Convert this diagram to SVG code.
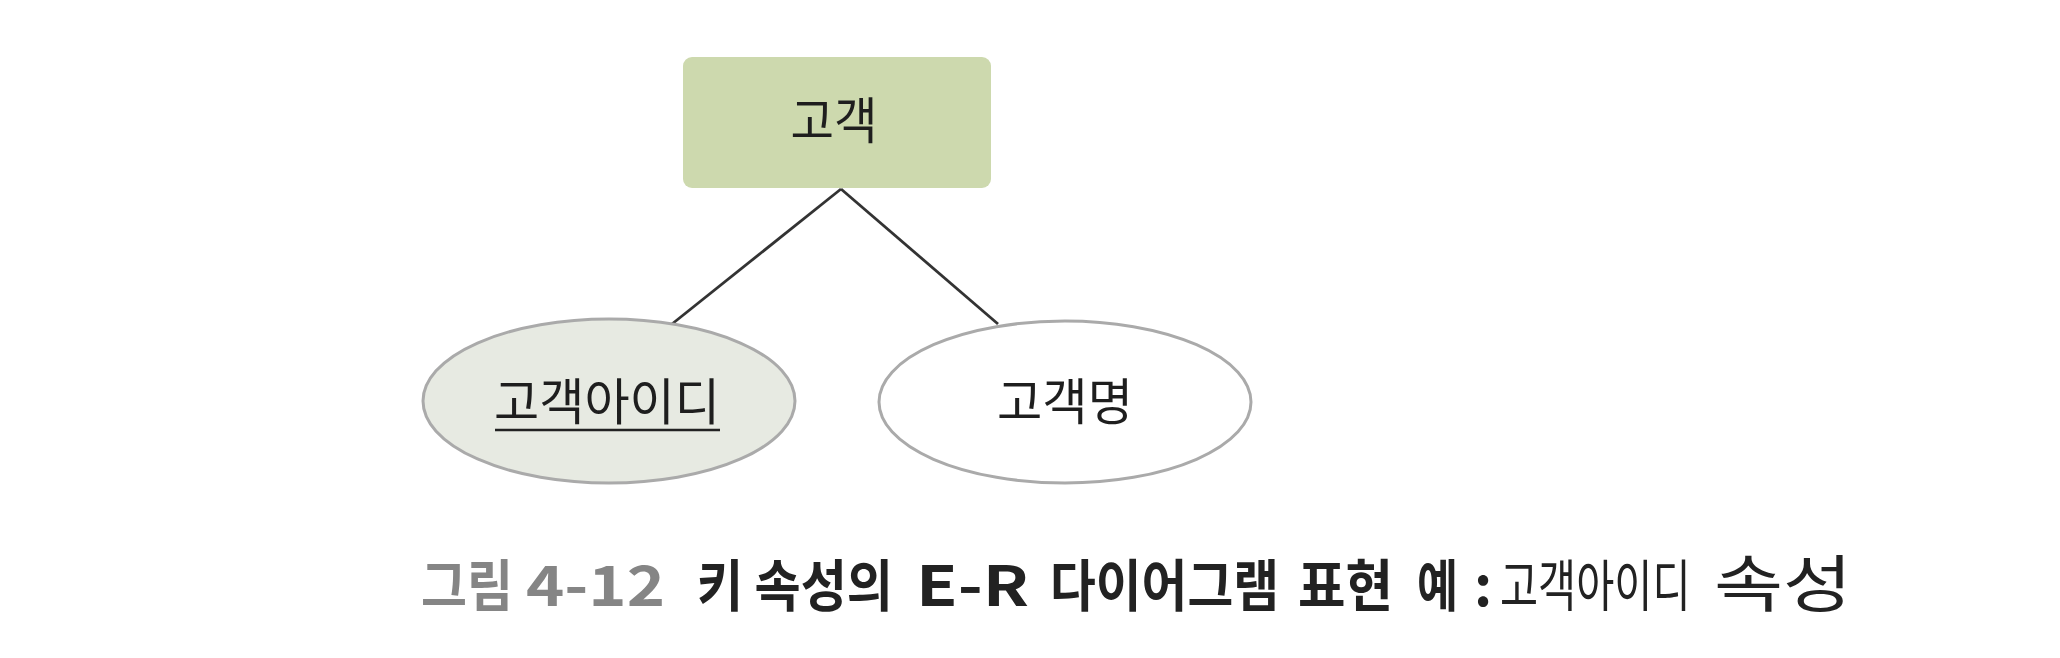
<svg xmlns="http://www.w3.org/2000/svg" width="2060" height="658" viewBox="0 0 2060 658">
<style>
.lbl{font-family:"Noto Sans CJK KR","Noto Sans",sans-serif;font-size:50px;fill:#1e1e1e;text-anchor:middle}
.cap{font-family:"Noto Sans CJK KR","Noto Sans",sans-serif;font-size:56px;font-weight:bold;fill:#222}
.capg{fill:#858585}
.capr{font-weight:normal}
.conn{stroke:#333;stroke-width:2.8;fill:none}
.attr{stroke:#aaa;stroke-width:3}
</style>
<rect width="2060" height="658" fill="#fff"/>
<g id="connectors">
<line class="conn" x1="841" y1="189" x2="672" y2="324"/>
<line class="conn" x1="841" y1="189" x2="998" y2="324"/>
</g>
<g id="customer">
<rect x="683" y="57" width="308" height="131" rx="9" fill="#cdd9ae"/>
<text class="lbl" x="834" y="139" textLength="87" lengthAdjust="spacingAndGlyphs">고객</text>
</g>
<g id="customer-id">
<ellipse class="attr" cx="609" cy="401" rx="186" ry="82" fill="#e7eae2"/>
<text class="lbl" x="607" y="420" textLength="226" lengthAdjust="spacingAndGlyphs">고객아이디</text>
<line x1="495" y1="430" x2="720" y2="430" stroke="#222" stroke-width="2.5"/>
</g>
<g id="customer-name">
<ellipse class="attr" cx="1065" cy="402" rx="186" ry="81" fill="#fff"/>
<text class="lbl" x="1065" y="420" textLength="136" lengthAdjust="spacingAndGlyphs">고객명</text>
</g>
<g id="caption">
<text class="cap capg" x="421" y="606" textLength="92" lengthAdjust="spacingAndGlyphs">그림</text>
<text class="cap capg" x="526" y="606" textLength="139" lengthAdjust="spacingAndGlyphs">4-12</text>
<text class="cap" x="697" y="606" textLength="196" lengthAdjust="spacingAndGlyphs">키 속성의</text>
<text class="cap" x="916" y="606" textLength="113" lengthAdjust="spacingAndGlyphs">E-R</text>
<text class="cap" x="1050" y="606" textLength="229" lengthAdjust="spacingAndGlyphs">다이어그램</text>
<text class="cap" x="1298" y="606" textLength="95" lengthAdjust="spacingAndGlyphs">표현</text>
<text class="cap" x="1417" y="606" textLength="41" lengthAdjust="spacingAndGlyphs">예</text>
<text class="cap" x="1474" y="606">:</text>
<text class="cap capr" transform="translate(1500,606) scale(0.74,1)" x="0" y="0">고객아이디</text>
<text class="cap capr" x="1714" y="607" style="font-size:62px" textLength="138" lengthAdjust="spacingAndGlyphs">속성</text>
</g>
</svg>
